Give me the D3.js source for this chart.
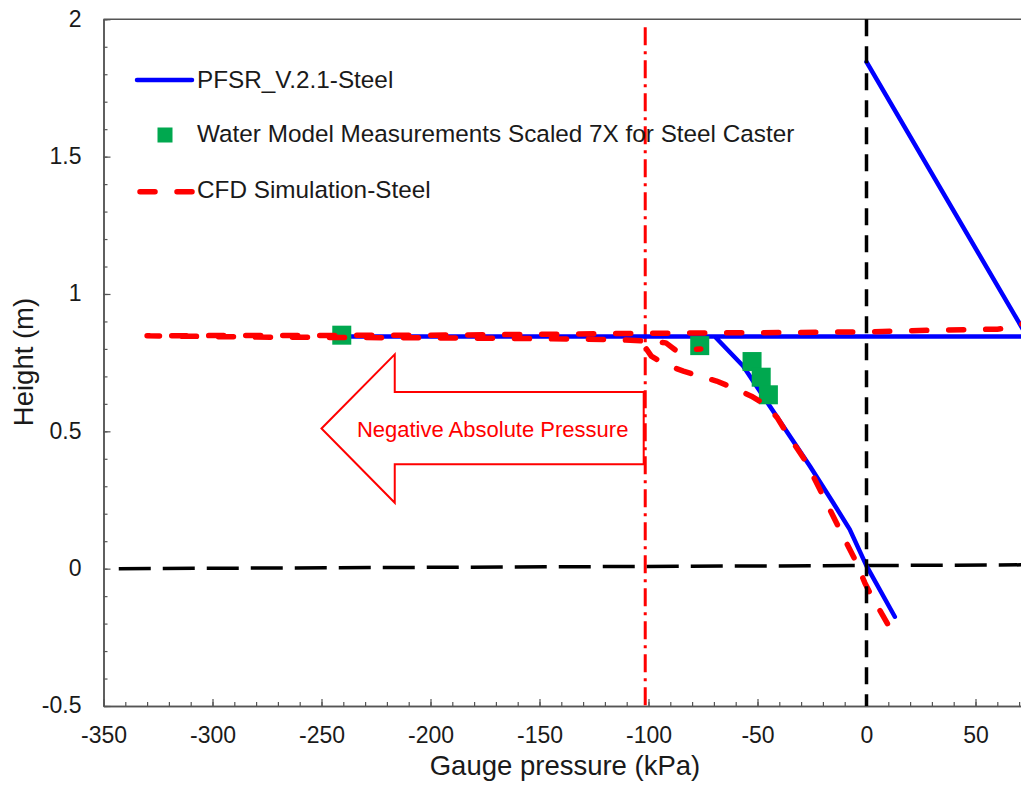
<!DOCTYPE html>
<html>
<head>
<meta charset="utf-8">
<script src="https://cdn.jsdelivr.net/npm/d3@7"></script>
<style>
  html, body { margin: 0; padding: 0; background: #fff; }
  svg { display: block; font-family: "Liberation Sans", Arial, sans-serif; }
</style>
</head>
<body>
<svg id="chart" width="1021" height="786"></svg>
<script>
// ---------------- DATA ----------------
const xTickValues = [-350, -300, -250, -200, -150, -100, -50, 0, 50];
const xTickLabels = ["-350", "-300", "-250", "-200", "-150", "-100", "-50", "0", "50"];
const yTickValues = [-0.5, 0, 0.5, 1, 1.5, 2];
const yTickLabels = ["-0.5", "0", "0.5", "1", "1.5", "2"];

// PFSR_V.2.1-Steel (gauge pressure kPa, height m)
const pfsrX = [0, 73.7, -240, -69.6, -56.6, -44.4, -35.2, -26, -15.3, -7.7, 0, 13];
const pfsrY = [1.845, 0.845, 0.845, 0.845, 0.738, 0.592, 0.483, 0.374, 0.240, 0.143, 0.01, -0.175];

// Water model measurements scaled 7X
const waterX = [-240.7, -76.5, -52.5, -48.3, -45];
const waterY = [0.850, 0.812, 0.754, 0.697, 0.633];

// CFD Simulation-Steel, upper branch (out along top, back along slightly lower track)
const cfdAX = [76, 71, 66, 60, 30, 0, -50, -100, -150, -200, -260, -330, -280, -220, -160, -115, -100, -92, -87, -76];
const cfdAY = [0.93, 0.888, 0.876, 0.872, 0.868, 0.862, 0.859, 0.857, 0.853, 0.850, 0.849, 0.848, 0.843, 0.841, 0.838, 0.834, 0.828, 0.822, 0.792, 0.800];
// CFD Simulation-Steel, descending branch
const cfdBX = [-101, -98.7, -92.5, -84, -76.4, -68.8, -60.4, -52.8, -45.9, -41, -36.7, -27.5, -19.9, -13.8, -4.6, -0.8, 2.3, 6, 11.5];
const cfdBY = [0.80, 0.774, 0.744, 0.719, 0.70, 0.683, 0.656, 0.628, 0.595, 0.55, 0.495, 0.386, 0.264, 0.167, 0.022, -0.051, -0.10, -0.15, -0.227];

// Reference lines
const zeroHeightX = [-343, 76];
const zeroHeightY = [0, 0.014];
const vacuumX = -101.5;     // negative absolute pressure limit
const zeroPressureX = 0;

// Arrow annotation (data units)
const arrowX = [-250, -216.4, -216.4, -102.2, -102.2, -216.4, -216.4];
const arrowY = [0.51, 0.78, 0.643, 0.643, 0.38, 0.38, 0.24];
const arrowLabel = "Negative Absolute Pressure";

const seriesNames = ["PFSR_V.2.1-Steel", "Water Model Measurements Scaled 7X for Steel Caster", "CFD Simulation-Steel"];

// ---------------- LAYOUT ----------------
const svg = d3.select("#chart");
const plotLeft = 103.5, plotTop = 19.3, plotBottom = 706;
const x = d3.scaleLinear().domain([-350, 100]).range([plotLeft, plotLeft + 450 * 2.18]);
const y = d3.scaleLinear().domain([-0.5, 2]).range([plotBottom, plotTop]);

const BLUE = "#0000ff", RED = "#ff0000", GREEN = "#00a84f";
const zip = (a, b) => a.map((v, i) => [v, b[i]]);
const line = d3.line().x(d => x(d[0])).y(d => y(d[1]));

// Frame top
svg.append("line").attr("x1", plotLeft).attr("x2", 1021).attr("y1", plotTop).attr("y2", plotTop)
  .attr("stroke", "#555").attr("stroke-width", 1.5);

// Axes
const axisColor = "#555";
const xMinor = d3.range(-350, 101, 10);
const yMinor = d3.range(-5, 21).map(v => v / 10);

const gxMinor = svg.append("g").attr("transform", `translate(0,${plotBottom})`)
  .call(d3.axisBottom(x).tickValues(xMinor).tickSizeInner(-4).tickSizeOuter(0).tickFormat(""));
const gyMinor = svg.append("g").attr("transform", `translate(${plotLeft},0)`)
  .call(d3.axisLeft(y).tickValues(yMinor).tickSizeInner(-4).tickSizeOuter(0).tickFormat(""));

const gx = svg.append("g").attr("transform", `translate(0,${plotBottom})`)
  .call(d3.axisBottom(x).tickValues(xTickValues).tickSizeInner(-7).tickSizeOuter(0).tickPadding(21)
    .tickFormat((d, i) => xTickLabels[i]));
const gy = svg.append("g").attr("transform", `translate(${plotLeft},0)`)
  .call(d3.axisLeft(y).tickValues(yTickValues).tickSizeInner(-7).tickSizeOuter(0).tickPadding(22)
    .tickFormat((d, i) => yTickLabels[i]));

[gxMinor, gyMinor, gx, gy].forEach(g => {
  g.selectAll("path").attr("stroke", axisColor).attr("stroke-width", 1.5);
  g.selectAll("line").attr("stroke", axisColor).attr("stroke-width", 1.2);
});
[gx, gy].forEach(g => g.selectAll("text").attr("font-size", 23).attr("fill", "#1a1a1a")
  .attr("font-family", '"Liberation Sans", Arial, sans-serif'));
gy.selectAll("text").attr("dy", "0.3em");

// Axis titles
svg.append("text").attr("x", 565).attr("y", 775).attr("text-anchor", "middle")
  .attr("font-size", 27.5).attr("fill", "#1a1a1a").text("Gauge pressure (kPa)");
svg.append("text").attr("transform", "translate(33,362) rotate(-90)").attr("text-anchor", "middle")
  .attr("font-size", 27.5).attr("fill", "#1a1a1a").text("Height (m)");

// Arrow annotation
svg.append("path")
  .attr("d", line(zip(arrowX, arrowY)) + "Z")
  .attr("fill", "#fff").attr("stroke", RED).attr("stroke-width", 2);
svg.append("text").attr("x", x(-171.5)).attr("y", 437).attr("text-anchor", "middle")
  .attr("font-size", 22).attr("fill", RED).text(arrowLabel);

// Vacuum limit (dash-dot red)
svg.append("line").attr("x1", x(vacuumX)).attr("x2", x(vacuumX)).attr("y1", y(2) + 8).attr("y2", y(-0.5))
  .attr("stroke", RED).attr("stroke-width", 3).attr("stroke-dasharray", "18,6,3,6");

// Zero height dashed
svg.append("path").attr("d", line(zip(zeroHeightX, zeroHeightY)))
  .attr("fill", "none").attr("stroke", "#000").attr("stroke-width", 3.5).attr("stroke-dasharray", "32,12");

// PFSR blue
svg.append("path").attr("d", line(zip(pfsrX, pfsrY)))
  .attr("fill", "none").attr("stroke", BLUE).attr("stroke-width", 4.5)
  .attr("stroke-linejoin", "round").attr("stroke-linecap", "round");

// Water model squares
const sq = 19;
svg.append("g").selectAll("rect").data(zip(waterX, waterY)).join("rect")
  .attr("x", d => x(d[0]) - sq / 2).attr("y", d => y(d[1]) - sq / 2)
  .attr("width", sq).attr("height", sq).attr("fill", GREEN);

// CFD red dashed
[zip(cfdAX, cfdAY), zip(cfdBX, cfdBY)].forEach(pts => {
  svg.append("path").attr("d", line(pts))
    .attr("fill", "none").attr("stroke", RED).attr("stroke-width", 5.5)
    .attr("stroke-linecap", "round").attr("stroke-linejoin", "round")
    .attr("stroke-dasharray", "15,22");
});

// Zero pressure vertical dashed (on top)
svg.append("line").attr("x1", x(zeroPressureX)).attr("x2", x(zeroPressureX)).attr("y1", y(2)).attr("y2", y(-0.5))
  .attr("stroke", "#000").attr("stroke-width", 3.5).attr("stroke-dasharray", "17,10");

// Legend
const lg = svg.append("g").attr("font-size", 24.3).attr("fill", "#1a1a1a");
lg.append("line").attr("x1", 137).attr("x2", 192).attr("y1", 80).attr("y2", 80)
  .attr("stroke", BLUE).attr("stroke-width", 4.5).attr("stroke-linecap", "round");
lg.append("text").attr("x", 197).attr("y", 88).text(seriesNames[0]);
lg.append("rect").attr("x", 165 - 7.5).attr("y", 135 - 7.5).attr("width", 15).attr("height", 15).attr("fill", GREEN);
lg.append("text").attr("x", 197).attr("y", 142).text(seriesNames[1]);
lg.append("line").attr("x1", 140).attr("x2", 192).attr("y1", 191.7).attr("y2", 191.7)
  .attr("stroke", RED).attr("stroke-width", 5.5).attr("stroke-linecap", "round").attr("stroke-dasharray", "15,22");
lg.append("text").attr("x", 197).attr("y", 198).text(seriesNames[2]);
</script>
</body>
</html>
